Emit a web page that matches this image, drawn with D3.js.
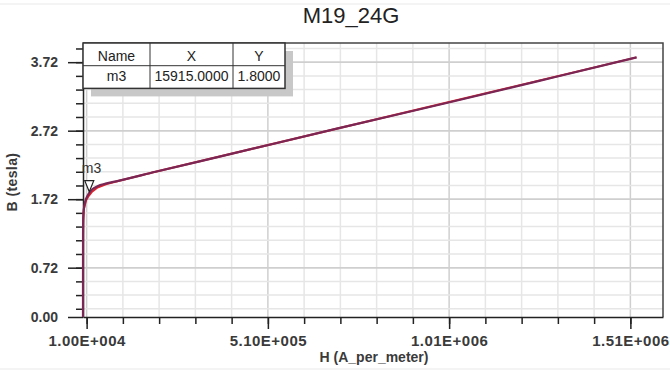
<!DOCTYPE html>
<html>
<head>
<meta charset="utf-8">
<script src="https://cdn.jsdelivr.net/npm/d3@7"></script>
<style>
  html, body { margin: 0; padding: 0; background: #fff; }
  svg { display: block; font-family: "Liberation Sans", Arial, sans-serif; }
</style>
</head>
<body>
<svg id="chart" width="670" height="371"></svg>
<script>
// B-H curve of M19_24G steel
const hValues = [0, 20, 40, 80, 150, 300, 600, 1200, 2500, 5000, 9000, 15915, 25000, 40000, 65000, 100000, 200000, 400000, 700000, 1000000, 1300000, 1527000];
const bValues = [0, 0.30, 0.70, 1.00, 1.20, 1.32, 1.42, 1.50, 1.58, 1.66, 1.73, 1.80, 1.86, 1.91, 1.95, 1.99, 2.12, 2.37, 2.75, 3.12, 3.50, 3.79];
// sampled points of the measured curve (drawn underneath)
const hSamples = [0, 40, 150, 600, 2500, 9000, 15915, 25000, 40000, 65000, 100000, 200000, 1527000];
const bSamples = [0, 0.70, 1.20, 1.42, 1.58, 1.71, 1.77, 1.83, 1.89, 1.94, 1.99, 2.12, 3.79];

const xMinorTicks = d3.range(16).map(k => 10000 + k * 100000);
const xMajorTicks = [10000, 510000, 1010000, 1510000];
const xTickLabels = ["1.00E+004", "5.10E+005", "1.01E+006", "1.51E+006"];
const yMinorTicks = d3.range(20).map(k => +(0.12 + k * 0.2).toFixed(2));
const yMajorTicks = [0, 0.72, 1.72, 2.72, 3.72];
const yTickLabels = ["0.00", "0.72", "1.72", "2.72", "3.72"];

const markerName = "m3";
const markerH = 15915;
const markerB = 1.8;
const tableHeader = ["Name", "X", "Y"];
const tableRow = [markerName, "15915.0000", "1.8000"];

const svg = d3.select("#chart");
const plotLeft = 83, plotRight = 663, plotTop = 43, plotBottom = 317;
const labelColor = "#3a3a3a";

const x = d3.scaleLinear().domain([0, 1600000]).range([plotLeft, plotRight]);
const y = d3.scaleLinear().domain([0, 4.0]).range([plotBottom, plotTop]);

// faint page rules
svg.append("line").attr("x1", 0).attr("x2", 670).attr("y1", 4).attr("y2", 4)
  .attr("stroke", "#f0f0f0").attr("stroke-width", 1.5);
svg.append("line").attr("x1", 0).attr("x2", 670).attr("y1", 369).attr("y2", 369)
  .attr("stroke", "#f0f0f0").attr("stroke-width", 1.5);

// title
svg.append("text").attr("x", 351).attr("y", 23).attr("text-anchor", "middle")
  .attr("font-size", 22).attr("fill", "#222").text("M19_24G");

// grid
const grid = svg.append("g");
grid.selectAll(".vx").data(xMinorTicks).join("line")
  .attr("x1", d => x(d)).attr("x2", d => x(d)).attr("y1", plotTop).attr("y2", plotBottom)
  .attr("stroke", d => xMajorTicks.includes(d) ? "#cfcfcf" : "#e6e6e6")
  .attr("stroke-width", 1.5);
grid.selectAll(".hy").data(yMinorTicks.concat(yMajorTicks.filter(d => d > 0))).join("line")
  .attr("x1", plotLeft).attr("x2", plotRight).attr("y1", d => y(d)).attr("y2", d => y(d))
  .attr("stroke", d => yMajorTicks.includes(d) ? "#cfcfcf" : "#e6e6e6")
  .attr("stroke-width", 1.5);

// frame (top and right)
svg.append("path")
  .attr("d", `M${plotLeft},${plotTop}H${plotRight}V${plotBottom}`)
  .attr("fill", "none").attr("stroke", "#444").attr("stroke-width", 1.5);

// axes
const styleAxis = g => {
  g.select(".domain").attr("stroke", "#222").attr("stroke-width", 1.5);
  g.selectAll(".tick line").attr("stroke", "#222").attr("stroke-width", 1.5);
  g.selectAll("text").attr("fill", labelColor).attr("font-weight", "bold");
};

svg.append("g").attr("transform", `translate(0,${plotBottom})`)
  .call(d3.axisBottom(x).tickValues(xMinorTicks).tickSize(7).tickSizeOuter(0).tickFormat(""))
  .call(styleAxis);
svg.append("g").attr("transform", `translate(0,${plotBottom})`)
  .call(d3.axisBottom(x).tickValues(xMajorTicks).tickSize(12).tickSizeOuter(0).tickPadding(6)
    .tickFormat((d, i) => xTickLabels[i]))
  .call(styleAxis)
  .call(g => g.selectAll("text").attr("font-size", 15).attr("letter-spacing", 0.5))
  .call(g => g.select(".domain").remove());

svg.append("g").attr("transform", `translate(${plotLeft},0)`)
  .call(d3.axisLeft(y).tickValues(yMinorTicks).tickSize(7).tickSizeOuter(0).tickFormat(""))
  .call(styleAxis);
svg.append("g").attr("transform", `translate(${plotLeft},0)`)
  .call(d3.axisLeft(y).tickValues(yMajorTicks).tickSize(15).tickSizeOuter(0).tickPadding(10)
    .tickFormat((d, i) => yTickLabels[i]))
  .call(styleAxis)
  .call(g => g.selectAll("text").attr("font-size", 14))
  .call(g => g.select(".domain").remove());

// axis titles
svg.append("text").attr("x", 374).attr("y", 362).attr("text-anchor", "middle")
  .attr("font-size", 14).attr("font-weight", "bold").attr("fill", labelColor).text("H (A_per_meter)");
svg.append("text").attr("transform", "translate(17,182) rotate(-90)").attr("text-anchor", "middle")
  .attr("font-size", 14).attr("font-weight", "bold").attr("letter-spacing", 0.4)
  .attr("fill", labelColor).text("B (tesla)");

// curves
const line = d3.line().x(d => x(d[0])).y(d => y(d[1])).curve(d3.curveMonotoneX);
svg.append("path").datum(d3.zip(hSamples, bSamples)).attr("d", d3.line().x(d => x(d[0])).y(d => y(d[1])))
  .attr("fill", "none").attr("stroke", "#e0202a").attr("stroke-width", 2);
svg.append("path").datum(d3.zip(hValues, bValues)).attr("d", line)
  .attr("fill", "none").attr("stroke", "#7a2755").attr("stroke-width", 2.2);

// marker
const mx = x(markerH), my = y(markerB);
svg.append("path")
  .attr("d", `M${mx + 0.5},${my - 2}L${mx - 4},${my - 13}L${mx + 5},${my - 13}Z`)
  .attr("fill", "#fff").attr("stroke", "#222").attr("stroke-width", 1.2);
svg.append("text").attr("x", mx - 7).attr("y", my - 21)
  .attr("font-size", 14).attr("fill", "#333").text(markerName);

// marker table with drop shadow
const tx = 83, ty = 43, colW = [67, 83, 52], rowH = 22.7;
const tw = d3.sum(colW), th = rowH * 2;
svg.append("rect").attr("x", tx + 8).attr("y", ty + 8).attr("width", tw).attr("height", th)
  .attr("fill", "#c8c8c8");
svg.append("rect").attr("x", tx).attr("y", ty).attr("width", tw).attr("height", th)
  .attr("fill", "#fff").attr("stroke", "#333").attr("stroke-width", 1.5);
svg.append("line").attr("x1", tx).attr("x2", tx + tw).attr("y1", ty + rowH).attr("y2", ty + rowH)
  .attr("stroke", "#333").attr("stroke-width", 1);
const colX = d3.cumsum([0].concat(colW));
[1, 2].forEach(i => {
  svg.append("line").attr("x1", tx + colX[i]).attr("x2", tx + colX[i]).attr("y1", ty).attr("y2", ty + th)
    .attr("stroke", "#333").attr("stroke-width", 1);
});
[tableHeader, tableRow].forEach((row, r) => {
  row.forEach((txt, c) => {
    svg.append("text").attr("x", tx + colX[c] + colW[c] / 2).attr("y", ty + 17.5 + r * 20.5)
      .attr("text-anchor", "middle").attr("font-size", 14).attr("fill", "#222").text(txt);
  });
});
</script>
</body>
</html>
